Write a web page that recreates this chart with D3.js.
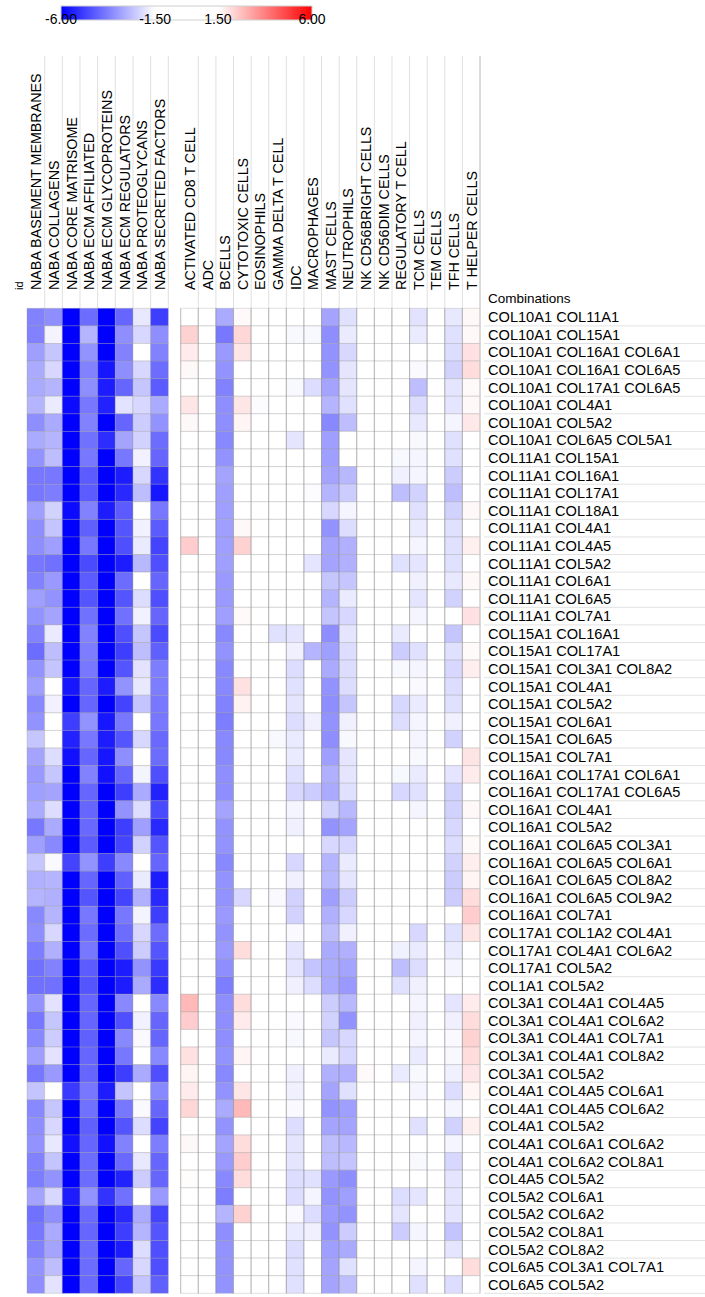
<!DOCTYPE html>
<html>
<head>
  <meta charset="utf-8">
  <title>Matrisome / immune heatmap</title>
  <style>
  * { margin: 0; padding: 0; }
  body { background: #fff; }
  text { font-family: "Liberation Sans", Arial, Helvetica, sans-serif; fill: #000; }
  </style>
</head>
<body>
  <script src="https://cdn.jsdelivr.net/npm/d3@7"></script>
  <script>
  // row labels
  var combos = [
    "COL10A1 COL11A1", "COL10A1 COL15A1", "COL10A1 COL16A1 COL6A1", "COL10A1 COL16A1 COL6A5",
    "COL10A1 COL17A1 COL6A5", "COL10A1 COL4A1", "COL10A1 COL5A2", "COL10A1 COL6A5 COL5A1",
    "COL11A1 COL15A1", "COL11A1 COL16A1", "COL11A1 COL17A1", "COL11A1 COL18A1",
    "COL11A1 COL4A1", "COL11A1 COL4A5", "COL11A1 COL5A2", "COL11A1 COL6A1",
    "COL11A1 COL6A5", "COL11A1 COL7A1", "COL15A1 COL16A1", "COL15A1 COL17A1",
    "COL15A1 COL3A1 COL8A2", "COL15A1 COL4A1", "COL15A1 COL5A2", "COL15A1 COL6A1",
    "COL15A1 COL6A5", "COL15A1 COL7A1", "COL16A1 COL17A1 COL6A1", "COL16A1 COL17A1 COL6A5",
    "COL16A1 COL4A1", "COL16A1 COL5A2", "COL16A1 COL6A5 COL3A1", "COL16A1 COL6A5 COL6A1",
    "COL16A1 COL6A5 COL8A2", "COL16A1 COL6A5 COL9A2", "COL16A1 COL7A1", "COL17A1 COL1A2 COL4A1",
    "COL17A1 COL4A1 COL6A2", "COL17A1 COL5A2", "COL1A1 COL5A2", "COL3A1 COL4A1 COL4A5",
    "COL3A1 COL4A1 COL6A2", "COL3A1 COL4A1 COL7A1", "COL3A1 COL4A1 COL8A2", "COL3A1 COL5A2",
    "COL4A1 COL4A5 COL6A1", "COL4A1 COL4A5 COL6A2", "COL4A1 COL5A2", "COL4A1 COL6A1 COL6A2",
    "COL4A1 COL6A2 COL8A1", "COL4A5 COL5A2", "COL5A2 COL6A1", "COL5A2 COL6A2",
    "COL5A2 COL8A1", "COL5A2 COL8A2", "COL6A5 COL3A1 COL7A1", "COL6A5 COL5A2"
  ];

  var nabaCols = ["NABA BASEMENT MEMBRANES", "NABA COLLAGENS", "NABA CORE MATRISOME",
    "NABA ECM AFFILIATED", "NABA ECM GLYCOPROTEINS", "NABA ECM REGULATORS",
    "NABA PROTEOGLYCANS", "NABA SECRETED FACTORS"];

  var immuneCols = ["ACTIVATED CD8 T CELL", "ADC", "BCELLS", "CYTOTOXIC CELLS", "EOSINOPHILS",
    "GAMMA DELTA T CELL", "IDC", "MACROPHAGES", "MAST CELLS", "NEUTROPHILS",
    "NK CD56BRIGHT CELLS", "NK CD56DIM CELLS", "REGULATORY T CELL", "TCM CELLS",
    "TEM CELLS", "TFH CELLS", "T HELPER CELLS"];

  var legendTicks = [-6, -1.5, 1.5, 6];
  var legendLabels = ["-6.00", "-1.50", "1.50", "6.00"];

  // one row per combination, same order as combos
  var nabaValues = [
    [-3.7,-3.5,-6.2,-4.1,-6.2,-4.2,-1.9,-4.9],
    [-3.7,-1.7,-6.2,-2.8,-6.2,-3.5,-2.2,-3.5],
    [-3.2,-2.5,-6.2,-3.4,-6.2,-3.7,-1.0,-3.7],
    [-3.0,-2.2,-6.2,-3.7,-5.6,-3.5,-2.2,-4.1],
    [-3.0,-2.8,-6.2,-3.5,-5.5,-4.2,-2.5,-4.4],
    [-2.8,-1.85,-5.8,-3.9,-5.4,-2.0,-2.2,-3.0],
    [-3.5,-3.0,-6.2,-3.7,-6.2,-4.2,-2.4,-3.4],
    [-3.0,-2.8,-6.2,-4.0,-5.2,-3.1,-2.3,-4.1],
    [-3.4,-2.65,-6.2,-3.9,-6.2,-3.9,-1.75,-4.2],
    [-3.9,-3.9,-6.2,-4.4,-6.2,-5.5,-2.2,-5.1],
    [-3.9,-3.8,-6.2,-4.4,-6.2,-5.3,-2.65,-5.6],
    [-3.2,-2.3,-5.8,-3.7,-5.5,-4.4,-1.0,-3.9],
    [-3.5,-2.55,-6.2,-4.3,-6.2,-4.5,-1.75,-4.4],
    [-3.5,-3.2,-6.2,-3.9,-6.2,-4.6,-1.85,-4.8],
    [-3.9,-4.0,-6.2,-4.7,-6.2,-5.5,-2.75,-4.6],
    [-3.7,-3.3,-6.2,-4.4,-6.2,-4.1,-1.0,-4.2],
    [-3.2,-3.4,-6.2,-4.5,-6.2,-4.5,-2.1,-4.6],
    [-3.4,-3.1,-6.2,-4.0,-6.2,-4.0,-1.75,-4.2],
    [-3.7,-1.85,-6.2,-3.7,-6.2,-4.6,-2.5,-4.7],
    [-4.1,-2.65,-6.2,-3.8,-6.2,-4.9,-2.65,-4.3],
    [-3.4,-2.55,-6.2,-3.9,-6.2,-4.5,-2.0,-3.8],
    [-3.2,-1.0,-5.6,-4.2,-5.5,-3.4,-1.9,-3.8],
    [-3.6,-1.75,-6.2,-4.2,-6.2,-4.8,-2.55,-3.9],
    [-3.4,-1.0,-4.9,-3.4,-5.6,-3.9,-1.0,-3.9],
    [-2.5,-1.0,-5.4,-3.9,-5.5,-4.5,-2.2,-4.15],
    [-3.1,-2.1,-5.7,-4.2,-5.6,-3.5,-1.0,-4.1],
    [-3.3,-2.5,-6.2,-3.7,-5.7,-4.2,-1.7,-4.6],
    [-3.2,-3.1,-6.2,-4.2,-6.2,-4.9,-3.0,-5.4],
    [-3.0,-2.1,-6.2,-4.2,-6.2,-3.4,-2.1,-4.7],
    [-3.9,-3.0,-6.2,-4.15,-6.2,-4.9,-3.2,-5.3],
    [-3.2,-3.6,-6.2,-4.4,-6.2,-4.8,-2.3,-4.5],
    [-2.5,-1.6,-4.8,-3.4,-4.9,-3.6,-1.0,-4.2],
    [-2.9,-2.8,-6.2,-4.2,-6.2,-4.3,-1.85,-5.5],
    [-2.8,-2.9,-6.2,-4.5,-6.2,-4.8,-2.9,-5.3],
    [-3.6,-2.8,-6.2,-3.9,-6.2,-3.9,-1.7,-4.9],
    [-3.5,-2.2,-6.2,-4.1,-6.2,-4.1,-2.2,-4.1],
    [-3.8,-2.9,-6.2,-3.9,-6.2,-4.6,-2.4,-4.5],
    [-4.0,-3.7,-6.2,-4.4,-6.2,-5.5,-3.4,-5.0],
    [-4.0,-4.0,-6.2,-4.5,-6.2,-5.5,-3.0,-5.2],
    [-3.4,-2.0,-6.2,-4.2,-6.2,-3.6,-1.0,-3.6],
    [-3.9,-2.5,-6.2,-4.2,-6.2,-4.6,-1.75,-4.2],
    [-3.6,-2.4,-6.2,-4.3,-6.2,-3.6,-1.6,-4.2],
    [-3.2,-2.0,-6.2,-4.2,-6.2,-3.9,-1.0,-3.6],
    [-3.9,-3.3,-6.2,-4.2,-6.2,-4.9,-3.0,-4.6],
    [-2.55,-1.0,-5.0,-3.9,-5.5,-2.55,-1.0,-3.6],
    [-3.6,-2.5,-6.2,-4.0,-6.2,-3.9,-1.6,-4.2],
    [-3.5,-2.2,-6.2,-4.3,-6.2,-4.5,-2.1,-4.8],
    [-3.4,-1.9,-5.7,-4.2,-5.7,-3.7,-1.0,-3.8],
    [-3.7,-2.55,-6.2,-4.1,-6.2,-4.15,-1.9,-4.2],
    [-3.8,-3.4,-6.2,-4.1,-6.2,-5.4,-2.4,-4.2],
    [-3.1,-2.2,-5.5,-3.4,-5.1,-4.0,-1.0,-3.3],
    [-4.0,-3.5,-6.2,-4.15,-6.2,-5.3,-3.0,-4.8],
    [-3.9,-3.0,-6.2,-4.2,-6.2,-4.9,-2.8,-4.5],
    [-3.7,-3.1,-6.2,-4.1,-6.2,-5.5,-2.1,-4.6],
    [-3.4,-2.65,-6.2,-4.1,-6.2,-4.2,-2.2,-4.6],
    [-3.5,-2.0,-6.2,-4.15,-6.2,-4.8,-2.55,-4.3]
  ];

  var immuneValues = [
    [0,0,-3.0,1.6,0,0,0,0,-3.1,-2.05,0,0,0,-2.0,0,-1.9,1.62],
    [2.3,0,-3.9,2.2,0,0,-1.62,-1.62,-3.5,-1.85,0,0,0,-1.85,0,-2.05,1.62],
    [1.85,0,-3.3,1.94,0,0,0,0,-3.4,-2.2,0,0,0,0,0,-2.1,2.03],
    [1.62,0,-3.4,0,0,0,0,0,-3.4,-1.95,0,0,0,-1.6,0,-2.3,2.1],
    [0,0,-3.7,0,0,0,-1.62,-2.1,-3.1,-1.95,0,0,0,-2.65,0,-1.95,1.58],
    [1.94,0,-3.5,1.94,-1.55,0,0,0,-2.8,-2.05,0,0,0,-2.1,0,-1.95,1.62],
    [1.62,0,-3.5,1.68,0,0,0,0,-3.6,-2.65,0,0,0,-1.9,0,-1.67,1.9],
    [0,0,-3.6,0,0,0,-1.95,0,-3.2,0,0,0,0,-1.62,0,-2.05,0],
    [0,0,-3.4,0,0,0,0,0,-3.2,0,0,0,-1.62,-1.67,0,-2.05,0],
    [0,0,-3.1,0,0,0,0,0,-3.1,-2.75,0,0,-1.77,-1.67,0,-2.4,0],
    [0,0,-3.2,0,0,0,0,-1.55,-2.8,-2.4,0,0,-2.65,-2.3,0,-2.65,0],
    [0,0,-3.2,0,0,0,0,0,-2.2,-1.67,0,0,0,-2.05,0,-2.3,1.62],
    [0,0,-3.2,1.62,0,0,0,0,-3.4,-2.1,0,0,0,-1.85,0,-2.05,0],
    [2.38,0,-3.2,2.3,0,0,0,0,-3.1,-2.9,0,0,0,-1.67,0,-2.05,1.76],
    [0,0,-3.2,0,0,0,0,-1.95,-3.1,-2.9,0,0,-2.05,-1.95,0,-2.05,0],
    [0,0,-3.3,0,0,0,0,0,-2.5,-2.5,0,0,0,-1.77,0,-1.9,1.62],
    [0,0,-3.3,0,0,0,0,0,-2.8,-1.85,0,0,0,-1.95,0,-2.3,0],
    [0,0,-3.2,1.58,0,0,0,0,-2.55,-2.2,0,0,0,-1.67,0,0,2.03],
    [0,0,-3.6,0,0,-2.05,-1.95,0,-3.5,-1.95,0,0,-1.85,0,0,-2.5,0],
    [0,0,-3.4,0,0,0,-1.77,-2.8,-3.2,-2.1,0,0,-2.4,-2.05,0,-2.05,1.58],
    [0,0,-3.6,0,0,0,-2.1,0,-3.0,-2.1,0,0,-1.62,-1.67,0,-2.2,1.8],
    [0,0,-3.6,2.03,0,0,-2.05,0,-3.4,-2.1,0,0,0,-1.6,0,-2.1,0],
    [0,0,-3.7,1.73,0,0,-1.95,0,-3.5,-2.5,0,0,-2.2,-1.85,0,-2.05,0],
    [0,0,-3.8,0,0,0,-2.1,-1.77,-3.4,-1.77,0,0,-2.1,-1.67,0,-1.77,0],
    [0,0,-3.6,0,0,-1.62,-1.85,0,-3.5,-1.62,0,0,0,-1.67,0,-2.3,0],
    [0,0,-3.6,0,0,0,-1.85,0,-3.2,-1.95,0,0,0,-1.62,0,0,1.98],
    [0,0,-3.5,0,0,0,-2.05,0,-2.9,-1.95,0,0,-1.62,-1.85,0,-1.95,1.85],
    [0,0,-3.5,0,0,0,-2.2,-2.4,-3.0,-2.05,0,0,-2.2,-2.05,0,-2.3,0],
    [0,0,-3.1,0,0,0,-1.67,0,-2.3,-2.75,0,0,0,-1.67,0,-2.3,1.62],
    [0,0,-3.4,0,0,0,-1.77,0,-3.4,-3.1,0,0,0,0,0,-2.2,0],
    [0,0,-3.4,0,0,0,0,0,-2.2,-2.2,0,0,0,0,0,-2.1,1.58],
    [0,0,-3.6,0,0,0,-2.2,0,-2.8,-1.85,0,0,0,0,0,-2.3,1.8],
    [0,0,-3.4,0,0,0,-1.77,0,-2.75,-1.95,0,0,0,0,0,-2.4,1.68],
    [0,0,-3.4,-2.2,0,-1.6,-2.3,0,-3.2,-2.4,0,0,0,0,0,-2.4,2.1],
    [0,0,-3.3,0,0,0,-2.3,0,-2.9,-2.2,0,0,0,0,0,0,2.38],
    [0,0,-3.4,0,0,0,-1.6,0,-2.65,-1.77,0,0,0,-2.2,0,-2.05,1.98],
    [0,0,-3.3,2.1,0,0,-1.95,0,-3.0,-2.9,0,0,-1.77,-1.85,0,-1.85,0],
    [0,0,-3.5,0,0,0,-1.95,-2.55,-3.0,-3.1,0,0,-2.65,-2.1,0,-1.67,0],
    [0,0,-3.8,0,0,0,-1.77,-2.1,-3.0,-3.3,0,0,-2.05,-1.77,0,0,0],
    [2.74,0,-3.5,2.1,0,0,0,0,-2.4,-2.75,0,0,0,-1.67,0,-1.95,1.85],
    [2.38,0,-3.5,1.85,0,0,-1.6,0,-2.3,-3.4,0,0,0,-1.77,0,-1.77,2.1],
    [0,0,-3.5,0,0,0,-1.62,0,-2.5,-2.2,0,0,0,-1.67,0,-1.6,2.3],
    [2.03,0,-3.4,1.68,0,0,0,0,-1.85,-2.2,0,0,0,-1.85,0,-1.62,2.1],
    [1.68,0,-3.6,0,0,0,-1.77,0,-2.9,-2.9,1.58,0,-1.85,-1.62,0,-1.77,1.94],
    [1.85,0,-3.4,1.94,0,0,-1.77,0,-3.1,-2.05,0,0,0,-1.67,0,-2.1,1.68],
    [2.2,0,-3.0,2.74,0,0,-1.6,0,-3.4,-3.2,0,0,0,0,0,-1.67,0],
    [0,0,-3.4,0,0,0,-2.1,0,-3.1,-3.1,0,0,0,-2.05,0,-2.3,1.76],
    [1.62,0,-3.1,2.1,0,0,-1.95,0,-2.65,-2.75,0,0,0,0,0,-1.67,0],
    [0,0,-3.3,2.38,0,0,-1.95,0,-2.65,-2.55,0,0,0,-1.62,0,-2.2,0],
    [1.55,0,-3.6,2.1,0,0,-2.1,-2.05,-3.3,-3.5,0,0,0,0,0,-1.95,0],
    [0,0,-3.8,0,0,0,-2.1,-1.67,-3.4,-3.2,0,0,-2.1,-1.95,0,-1.95,0],
    [0,0,-2.8,2.3,0,0,-1.6,-2.1,-3.3,-3.4,0,0,-1.95,0,0,-1.95,0],
    [0,0,-3.5,0,0,0,-1.85,-1.77,-3.4,-2.4,0,0,-2.4,-1.67,0,-2.55,0],
    [0,0,-3.4,0,0,0,-2.1,0,-3.2,-3.0,0,0,0,0,0,-1.95,0],
    [0,0,-3.4,0,0,0,-2.05,0,-3.1,-2.05,0,0,0,-1.67,0,0,2.1],
    [0,0,-3.4,0,0,0,-2.05,0,-3.1,-2.65,0,0,0,-2.05,0,-2.1,0]
  ];

  var w = 705;
  var h = 1297;
  var headerBase = 290;   // where the rotated column names start

  var svg = d3.select("body").append("svg")
    .attr("width", w)
    .attr("height", h);

  // colour: blue below -1.5, white in the middle, red above 1.5
  var color = d3.scaleLinear()
    .domain([-6, -1.5, 1.5, 6])
    .range(["#0000ff", "#ffffff", "#ffffff", "#ff0000"])
    .clamp(true);

  var y = d3.scaleBand().domain(combos).range([308.3, 1293.3]);
  var xNaba = d3.scaleBand().domain(nabaCols).range([27, 168.3]);
  var xImm = d3.scaleBand().domain(immuneCols).range([180.7, 480]);

  //Legend
  var lx = d3.scaleLinear().domain([-6, 6]).range([61, 312]);
  var grad = svg.append("defs").append("linearGradient").attr("id", "lg");
  legendTicks.forEach(function(t) {
    grad.append("stop")
      .attr("offset", (lx(t) - 61) / 251)
      .attr("stop-color", color(t));
  });
  svg.append("rect")
    .attr("x", lx(-6)).attr("y", 6)
    .attr("width", lx(6) - lx(-6)).attr("height", 14)
    .attr("fill", "url(#lg)")
    .attr("stroke", "#d0d0d0");
  svg.selectAll(".ltick")
    .data(legendTicks)
    .enter().append("text")
    .attr("class", "ltick")
    .attr("x", function(d) { return lx(d); })
    .attr("y", 24)
    .attr("text-anchor", "middle")
    .style("font-size", "14px")
    .text(function(d, i) { return legendLabels[i]; });

  // one block of the heatmap
  function block(xs, cols, values, cls) {
    var g = svg.append("g").attr("class", cls);

    // header guide lines
    g.selectAll(".guide")
      .data(cols)
      .enter().append("line")
      .attr("x1", function(d) { return xs(d) + xs.bandwidth(); })
      .attr("x2", function(d) { return xs(d) + xs.bandwidth(); })
      .attr("y1", 56)
      .attr("y2", 308)
      .attr("stroke", "#e0e0e0");

    // column names
    g.selectAll(".colname")
      .data(cols)
      .enter().append("text")
      .attr("class", "colname")
      .attr("transform", function(d) {
        return "translate(" + (xs(d) + xs.bandwidth() / 2 + 5.5) + "," + headerBase + ") rotate(-90)";
      })
      .style("font-size", "14.3px")
      .text(function(d) { return d; });

    var rows = g.selectAll(".row")
      .data(values)
      .enter().append("g")
      .attr("class", "row")
      .attr("transform", function(d, i) { return "translate(0," + y(combos[i]) + ")"; });

    rows.selectAll("rect")
      .data(function(d) { return d; })
      .enter().append("rect")
      .attr("x", function(d, j) { return xs(cols[j]); })
      .attr("width", xs.bandwidth())
      .attr("height", y.bandwidth())
      .attr("fill", function(d) { return color(d); })
      .attr("stroke", "rgba(150,150,150,0.3)")
      .attr("stroke-width", 1);

    return g;
  }

  block(xNaba, nabaCols, nabaValues, "naba");
  var imm = block(xImm, immuneCols, immuneValues, "immune");

  // darker column dividers in the immune block
  imm.selectAll(".vdiv")
    .data(immuneCols)
    .enter().append("line")
    .attr("x1", function(d) { return xImm(d); })
    .attr("x2", function(d) { return xImm(d); })
    .attr("y1", 308.3)
    .attr("y2", 1293.3)
    .attr("stroke", "rgba(120,120,120,0.35)");
  imm.append("line")
    .attr("x1", 480).attr("x2", 480)
    .attr("y1", 56).attr("y2", 1293.3)
    .attr("stroke", "#c8c8c8");

  // id header
  svg.append("text")
    .attr("transform", "translate(23," + headerBase + ") rotate(-90)")
    .style("font-size", "11px")
    .text("id");

  // row labels
  svg.append("text")
    .attr("x", 488)
    .attr("y", 303)
    .style("font-size", "13.5px")
    .text("Combinations");

  svg.selectAll(".sep")
    .data(combos)
    .enter().append("line")
    .attr("class", "sep")
    .attr("x1", 484).attr("x2", w)
    .attr("y1", function(d) { return y(d) + y.bandwidth(); })
    .attr("y2", function(d) { return y(d) + y.bandwidth(); })
    .attr("stroke", "#e2e2e2");

  svg.selectAll(".rowname")
    .data(combos)
    .enter().append("text")
    .attr("class", "rowname")
    .attr("x", 488)
    .attr("y", function(d) { return y(d) + y.bandwidth() / 2 + 5.2; })
    .style("font-size", "14.6px")
    .text(function(d) { return d; });
  </script>
</body>
</html>
